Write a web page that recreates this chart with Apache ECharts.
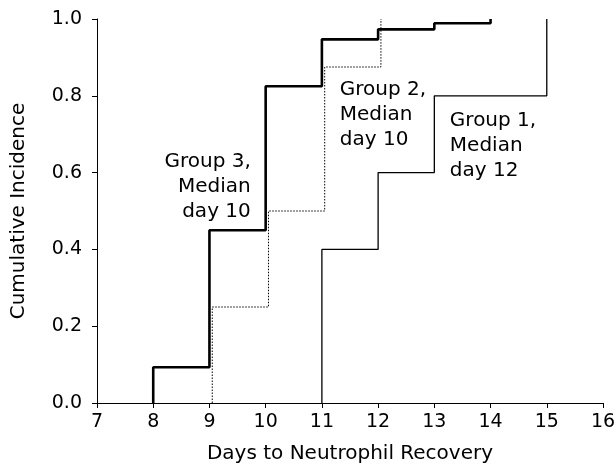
<!DOCTYPE html>
<html>
<head>
<meta charset="utf-8">
<script src="https://cdn.jsdelivr.net/npm/echarts@6/dist/echarts.min.js"></script>
<style>html,body{margin:0;padding:0;background:#fff}#c{width:615px;height:465px}</style>
</head>
<body>
<div id="c"></div>
<script>
// Step times (days) and cumulative incidence after each step
const g3Days = [8, 9, 10, 11, 12, 13, 14];
const g3Values = [0.093, 0.45, 0.825, 0.947, 0.973, 0.989, 1.0];
const g2Days = [9.05, 10.05, 11.05, 12.05];
const g2Values = [0.25, 0.5, 0.875, 1.0];
const g1Days = [11, 12, 13, 15];
const g1Values = [0.4, 0.6, 0.8, 1.0];
const xTicks = [7, 8, 9, 10, 11, 12, 13, 14, 15, 16];
const yTicks = [0.0, 0.2, 0.4, 0.6, 0.8, 1.0];
const annotations = [
  { text: 'Group 3,\nMedian\nday 10', x: 9.735, y: 0.562, align: 'right' },
  { text: 'Group 2,\nMedian\nday 10', x: 11.318, y: 0.75, align: 'left' },
  { text: 'Group 1,\nMedian\nday 12', x: 13.276, y: 0.671, align: 'left' }
];

function stepPoints(days, vals) {
  const pts = [[days[0], 0]];
  for (let i = 0; i < days.length; i++) pts.push([days[i], vals[i]]);
  return pts;
}

const FONT = 'DejaVu Sans';
const chart = echarts.init(document.getElementById('c'), null, { renderer: 'canvas' });
const axisCommon = {
  axisLine: { show: true, lineStyle: { color: '#000', width: 1 } },
  axisTick: { show: true, inside: false, length: 5, lineStyle: { color: '#000', width: 1 } },
  splitLine: { show: false },
  nameLocation: 'middle',
  nameTextStyle: { fontFamily: FONT, fontSize: 20, color: '#000' }
};
chart.setOption({
  animation: false,
  backgroundColor: '#fff',
  grid: { left: 97, right: 12, top: 19, bottom: 62, containLabel: false, outerBoundsMode: 'none' },
  xAxis: Object.assign({}, axisCommon, {
    type: 'value', min: xTicks[0], max: xTicks[xTicks.length - 1], interval: 1,
    name: 'Days to Neutrophil Recovery', nameGap: 41,
    axisLabel: { fontFamily: FONT, fontSize: 19, color: '#000', margin: 10 }
  }),
  yAxis: Object.assign({}, axisCommon, {
    type: 'value', min: yTicks[0], max: yTicks[yTicks.length - 1], interval: 0.2,
    name: 'Cumulative Incidence', nameGap: 68,
    axisLabel: { fontFamily: FONT, fontSize: 19, color: '#000', margin: 15,
      formatter: v => v.toFixed(1) }
  }),
  series: [
    { name: 'Group 3', type: 'line', step: 'end', symbol: 'none', clip: false,
      data: stepPoints(g3Days, g3Values), lineStyle: { color: '#000', width: 2.6 } },
    { name: 'Group 2', type: 'line', step: 'end', symbol: 'none', clip: false,
      data: stepPoints(g2Days, g2Values), lineStyle: { color: '#000', width: 1, type: [1.5, 1.5] } },
    { name: 'Group 1', type: 'line', step: 'end', symbol: 'none', clip: false,
      data: stepPoints(g1Days, g1Values), lineStyle: { color: '#000', width: 1.3 } }
  ]
});

const graphics = annotations.map(a => {
  const p = chart.convertToPixel({ gridIndex: 0 }, [a.x, a.y]);
  return {
    type: 'text', x: p[0], y: p[1],
    style: { text: a.text, fill: '#000', font: '20px "' + FONT + '"', lineHeight: 25,
      align: a.align, verticalAlign: 'middle' }
  };
});
chart.setOption({ graphic: graphics });
</script>
</body>
</html>
